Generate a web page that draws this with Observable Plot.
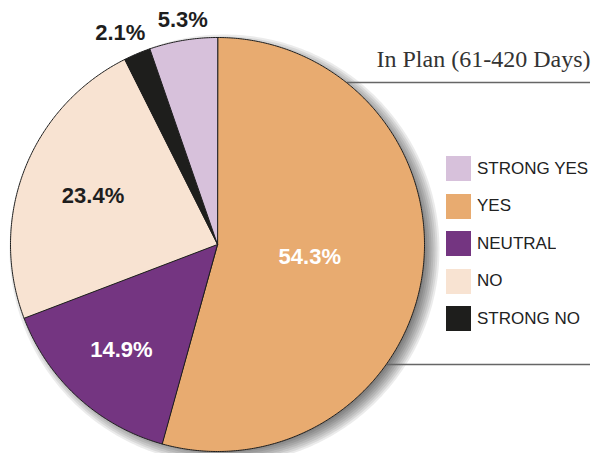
<!DOCTYPE html>
<html>
<head>
<meta charset="utf-8">
<script src="https://cdn.jsdelivr.net/npm/d3@7"></script>
<script src="https://cdn.jsdelivr.net/npm/@observablehq/plot@0.6"></script>
<style>
  html, body { margin: 0; padding: 0; background: #fff; }
  #chart { position: relative; width: 595px; height: 453px; overflow: hidden; }
  #legend { position: absolute; left: 446px; top: 156px; }
  #legend .lg-swatches { margin: 0 !important; min-height: 0 !important; }
  #legend .lg-swatch { display: flex !important; align-items: center !important; height: 25px !important; margin: 0 0 12.6px 0 !important; padding: 0 !important; color: #222; }
  #legend .lg-swatch svg { margin-right: 6px !important; flex-shrink: 0; }
</style>
</head>
<body>
<div id="chart"></div>
<script>
// ---- data ----
const legendCategories = ["STRONG YES", "YES", "NEUTRAL", "NO", "STRONG NO"];
const legendColors = ["#D7C1DB", "#E8AB70", "#743581", "#F8E3D2", "#1E1E1C"];
const sliceCategories = ["YES", "NEUTRAL", "NO", "STRONG NO", "STRONG YES"];
const sliceValues = [54.3, 14.9, 23.4, 2.1, 5.3];
const sliceLabels = ["54.3%", "14.9%", "23.4%", "2.1%", "5.3%"];
const title = "In Plan (61-420 Days)";

// ---- layout ----
const W = 595, H = 453, cx = 217, cy = 244, R = 207;
const labelRadius = {"YES": 0.45, "NEUTRAL": 0.69, "NO": 0.645, "STRONG NO": 1.11, "STRONG YES": 1.10};
const labelNudge = {"YES": 0, "NEUTRAL": 0, "NO": 0, "STRONG NO": -8, "STRONG YES": 3};
const labelColor = {"YES": "#fff", "NEUTRAL": "#fff", "NO": "#1e1e1e", "STRONG NO": "#1e1e1e", "STRONG YES": "#1e1e1e"};

const slices = sliceCategories.map((c, i) => ({key: c, value: sliceValues[i], label: sliceLabels[i]}));
const arcs = d3.pie().sort(null).value(d => d.value).startAngle(0).endAngle(2 * Math.PI)(slices);

// polygon vertices of each slice on the unit circle (angle measured clockwise from top)
const pts = [];
for (const a of arcs) {
  const key = a.data.key;
  pts.push({key, x: 0, y: 0});
  const n = Math.max(2, Math.ceil((a.endAngle - a.startAngle) / (Math.PI / 360)));
  for (let k = 0; k <= n; k++) {
    const t = a.startAngle + (a.endAngle - a.startAngle) * k / n;
    pts.push({key, x: Math.sin(t), y: Math.cos(t)});
  }
}

// soft shadow: stacked translucent discs of growing radius (pixel offsets)
const shadowPts = [];
[-6, -4, -2, 0, 2, 4, 6, 8].forEach((d, j) => {
  const r = 1 + d / R;
  for (let k = 0; k < 360; k++) {
    const t = k * Math.PI / 180;
    shadowPts.push({ring: j, x: r * Math.sin(t), y: r * Math.cos(t)});
  }
});

const labelData = arcs.map(a => {
  const m = (a.startAngle + a.endAngle) / 2, r = labelRadius[a.data.key];
  return {key: a.data.key, label: a.data.label, x: r * Math.sin(m) + labelNudge[a.data.key] / R, y: r * Math.cos(m)};
});

const ruleYs = [(cy - 82) / R, (cy - 364) / R];
const rules = ruleYs.map(y => ({y, x1: Math.sqrt(1 - y * y) + 0.003, x2: (590 - cx) / R}));

const plot = Plot.plot({
  width: W, height: H, margin: 0,
  x: {domain: [-cx / R, (W - cx) / R], range: [0, W], axis: null},
  y: {domain: [-(H - cy) / R, cy / R], range: [H, 0], axis: null},
  color: {domain: legendCategories, range: legendColors},
  style: {background: "transparent"},
  marks: [
    Plot.line(shadowPts, {x: "x", y: "y", z: "ring", fill: "#000", fillOpacity: 0.08, stroke: "none", curve: "linear-closed", dx: 7, dy: 5}),
    Plot.ruleY(rules, {y: "y", x1: "x1", x2: "x2", stroke: "#666", strokeWidth: 1.6}),
    Plot.line(pts, {x: "x", y: "y", z: "key", fill: "key", stroke: "#1e1e1e", strokeWidth: 1, strokeLinejoin: "round", curve: "linear-closed"}),
    Plot.text(labelData, {x: "x", y: "y", text: "label", fill: d => labelColor[d.key], fontFamily: "Liberation Sans, Arial, sans-serif", fontWeight: "bold", fontSize: 22}),
    Plot.text([title], {x: (590 - cx) / R, y: (cy - 66) / R, text: d => d, textAnchor: "end", lineAnchor: "bottom", fontFamily: "Liberation Serif, serif", fontSize: 24, fill: "#333"})
  ]
});

const chart = document.getElementById("chart");
chart.appendChild(plot);

const legend = Plot.legend({
  color: {domain: legendCategories, range: legendColors},
  legend: "swatches", columns: 1, swatchSize: 25, className: "lg",
  style: {fontFamily: "Liberation Sans, Arial, sans-serif", fontSize: "17px", color: "#222", background: "transparent"}
});
const lgWrap = document.createElement("div");
lgWrap.id = "legend";
lgWrap.appendChild(legend);
chart.appendChild(lgWrap);
</script>
</body>
</html>
